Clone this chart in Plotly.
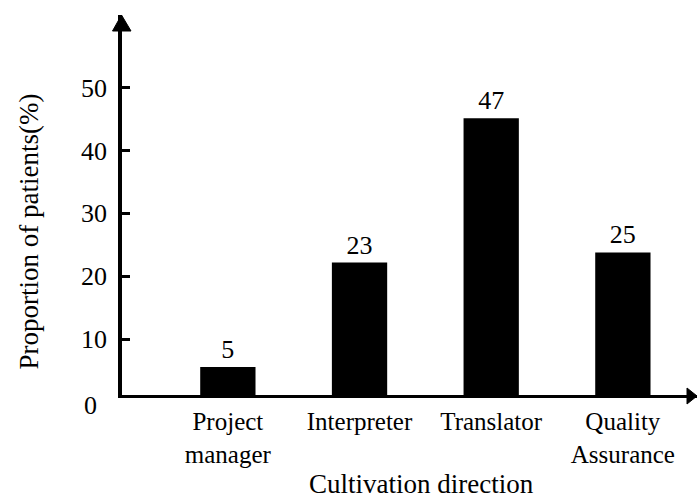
import plotly.graph_objects as go

categories = ["Project<br>manager", "Interpreter", "Translator", "Quality<br>Assurance"]
bar_heights = [5.6, 22.2, 45.1, 23.8]
value_labels = ["5", "23", "47", "25"]
y_tickvals = [10, 20, 30, 40, 50]
y_ticktext = ["10", "20", "30", "40", "50"]
x_title = "Cultivation direction"
y_title = "Proportion of patients(%)"

FONT = "Liberation Serif"

W, H = 697, 502
L, R, T, B = 122, 0, 15, 107
PW, PH = W - L - R, H - T - B

def px_x(x):
    return (x - L) / PW

def px_y(y):
    return (H - B - y) / PH

fig = go.Figure()
fig.add_trace(go.Bar(
    x=list(range(len(categories))),
    y=bar_heights,
    text=value_labels,
    textposition="outside",
    textfont=dict(family=FONT, size=26, color="black"),
    marker=dict(color="black", line=dict(width=0)),
    cliponaxis=False,
    width=0.42,
))

fig.update_layout(
    width=W, height=H,
    margin=dict(l=L, r=R, t=T, b=B, pad=0),
    paper_bgcolor="white", plot_bgcolor="white",
    showlegend=False,
    font=dict(family=FONT, color="black"),
    xaxis=dict(
        range=[-0.804, 3.563],
        tickmode="array",
        tickvals=list(range(len(categories))),
        ticktext=categories,
        tickfont=dict(family=FONT, size=25, color="black"),
        showline=True, linecolor="black", linewidth=3,
        showgrid=False, zeroline=False, ticks="",
        ticklabelstandoff=2,
    ),
    yaxis=dict(
        range=[1.16, 61.5],
        tickmode="array",
        tickvals=y_tickvals,
        ticktext=y_ticktext,
        tickfont=dict(family=FONT, size=26, color="black"),
        showline=True, linecolor="black", linewidth=3.5,
        showgrid=False, zeroline=False,
        ticks="inside", ticklen=8, tickwidth=3, tickcolor="black",
        ticklabelstandoff=6,
    ),
    shapes=[
        # y-axis arrowhead
        dict(type="path", xref="paper", yref="paper",
             path=f"M {px_x(112.5)} {px_y(31)} L {px_x(121.5)} {px_y(15)} L {px_x(131)} {px_y(31)} Z",
             fillcolor="black", line=dict(color="black", width=1)),
        # x-axis arrowhead
        dict(type="path", xref="paper", yref="paper",
             path=f"M {px_x(687)} {px_y(388)} L {px_x(697)} {px_y(396)} L {px_x(687)} {px_y(404)} Z",
             fillcolor="black", line=dict(color="black", width=1)),
    ],
    annotations=[
        dict(text="0", xref="paper", yref="paper", x=px_x(90), y=px_y(405),
             xanchor="center", yanchor="middle", showarrow=False,
             font=dict(family=FONT, size=26, color="black")),
        dict(text=y_title, xref="paper", yref="paper", x=px_x(29), y=px_y(231.5),
             xanchor="center", yanchor="middle", showarrow=False, textangle=-90,
             font=dict(family=FONT, size=27, color="black")),
        dict(text=x_title, xref="paper", yref="paper", x=px_x(421), y=px_y(501),
             xanchor="center", yanchor="bottom", showarrow=False,
             font=dict(family=FONT, size=27, color="black")),
    ],
)

fig.write_html("out.html",
               config={"displayModeBar": False},
               post_script="document.body.style.margin='0';document.body.style.padding='0';")
